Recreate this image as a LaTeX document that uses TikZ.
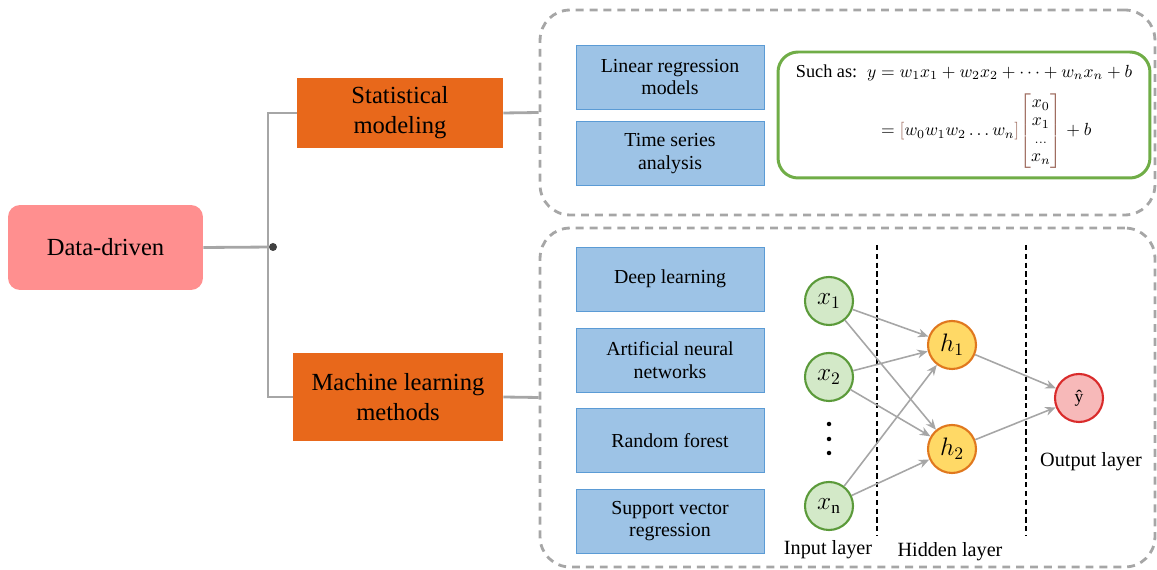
\documentclass[tikz,border=0pt]{standalone}
\usepackage{amsmath}
\usepackage{fontspec}
\setmainfont{Liberation Serif}
\usetikzlibrary{arrows.meta}

\definecolor{rootpink}{HTML}{FF8F8F}
\definecolor{branchorange}{HTML}{E8681B}
\definecolor{itemblue}{HTML}{9DC3E6}
\definecolor{itemedge}{HTML}{5B9BD5}
\definecolor{linegray}{HTML}{A6A6A6}
\definecolor{dotgray}{HTML}{404040}
\definecolor{formgreen}{HTML}{70AD47}
\definecolor{bracketbrown}{HTML}{9E6B5E}
\definecolor{infill}{HTML}{D3E9C8}
\definecolor{inedge}{HTML}{5B9A3A}
\definecolor{hidfill}{HTML}{FFD966}
\definecolor{hidedge}{HTML}{E0781E}
\definecolor{outfill}{HTML}{F7B9B9}
\definecolor{outedge}{HTML}{D92B2B}

\tikzset{
  rootbox/.style={fill=rootpink, rounded corners=0.24cm, minimum width=3.9cm,
    minimum height=1.7cm, font=\fontsize{14}{17}\selectfont},
  branchbox/.style={fill=branchorange, align=center, minimum height=1.42cm,
    font=\fontsize{14}{17}\selectfont},
  itembox/.style={fill=itemblue, draw=itemedge, line width=0.5pt, align=center,
    minimum width=3.76cm, minimum height=1.28cm, font=\fontsize{11.3}{13}\selectfont},
  groupbox/.style={draw=linegray, line width=1.6pt, dash pattern=on 4.5pt off 3.4pt,
    rounded corners=0.6cm, minimum width=12.3cm},
  formbox/.style={draw=formgreen, fill=white, line width=1.7pt, rounded corners=0.4cm,
    inner sep=2pt, minimum width=7.44cm, minimum height=2.52cm,
    font=\fontsize{10.4}{12.4}\selectfont},
  link/.style={draw=linegray, line width=1.6pt},
  junction/.style={circle, fill=dotgray, minimum size=0.16cm, inner sep=0pt},
  neuron/.style={circle, line width=1.2pt, minimum size=0.96cm, inner sep=0pt,
    font=\fontsize{14}{16}\selectfont},
  innode/.style={neuron, draw=inedge, fill=infill},
  hidnode/.style={neuron, draw=hidedge, fill=hidfill},
  outnode/.style={neuron, draw=outedge, fill=outfill},
  weight/.style={draw=linegray, line width=0.9pt, -{Stealth[length=6pt,width=5pt]}},
  layersep/.style={densely dashed, line width=0.6pt},
  layername/.style={font=\fontsize{11.5}{13}\selectfont}
}

\begin{document}
\begin{tikzpicture}[x=0.02cm,y=-0.02cm]
  \useasboundingbox (0,0) rectangle (1157,570);

  % left part of the tree
  \node[rootbox] (dd) at (105.5,247.5) {Data-driven};
  \node[junction] (jn) at (273,247) {};
  \coordinate (fork) at (268,247);
  \node[branchbox, minimum width=4.12cm] (sm) at (400,113) {Statistical\\modeling};
  \node[branchbox, minimum width=4.2cm, minimum height=1.76cm] (ml) at (398,397)
    {Machine learning\\methods};

  % dashed groups
  \node[groupbox, minimum height=4.1cm] (statgrp) at (847.5,112.5) {};
  \node[groupbox, minimum height=6.78cm] (mlgrp) at (847.5,397.5) {};

  \draw[link] (dd.east) -- (jn);
  \draw[link] (sm.west) -| (fork) |- (ml.west);
  \draw[link] (sm.east) -- (statgrp.west);
  \draw[link] (ml.east) -- (mlgrp.west);

  % statistical methods
  \node[itembox] (lr) at (670,77) {Linear regression\\models};
  \node[itembox] (ts) at (670,153.5) {Time series\\analysis};
  \node[formbox] (eq) at (964,115) {$\begin{aligned}
      \text{Such as:}\;\; y &= w_1x_1+w_2x_2+\cdots+w_nx_n+b\\[2pt]
      &= {\color{bracketbrown}\left[\color{black}w_0w_1w_2\ldots w_n\color{bracketbrown}\right]}
         {\renewcommand{\arraystretch}{0.82}\color{bracketbrown}\left[\color{black}
           \begin{matrix}x_0\\x_1\\{\scriptstyle\ldots}\\x_n\end{matrix}\color{bracketbrown}\right]}+b
    \end{aligned}$};

  % machine learning methods
  \node[itembox] (dl) at (670,279) {Deep learning};
  \node[itembox] (ann) at (670,360) {Artificial neural\\networks};
  \node[itembox] (rf) at (670,440.5) {Random forest};
  \node[itembox] (svr) at (670,521) {Support vector\\regression};

  % small network
  \draw[layersep] (877,245) -- (877,535);
  \draw[layersep] (1026,245) -- (1026,535);
  \node[innode] (x1) at (829,301) {$x_1$};
  \node[innode] (x2) at (829,377) {$x_2$};
  \foreach \y in {424,439,453}
    \fill (829,\y) circle (0.045cm);
  \node[innode] (xn) at (829,506) {$x_{\mathrm{n}}$};
  \node[hidnode] (h1) at (952,345) {$h_1$};
  \node[hidnode] (h2) at (952,449) {$h_2$};
  \node[outnode, font=\fontsize{10}{12}\selectfont] (yh) at (1079,398) {\^y};
  \foreach \s in {x1,x2,xn}
    \foreach \t in {h1,h2}
      \draw[weight] (\s) -- (\t);
  \draw[weight] (h1) -- (yh);
  \draw[weight] (h2) -- (yh);
  \node[layername] (inl) at (828,550) {Input layer};
  \node[layername] (hidl) at (950,552) {Hidden layer};
  \node[layername] (outl) at (1091,462) {Output layer};
\end{tikzpicture}
\end{document}
